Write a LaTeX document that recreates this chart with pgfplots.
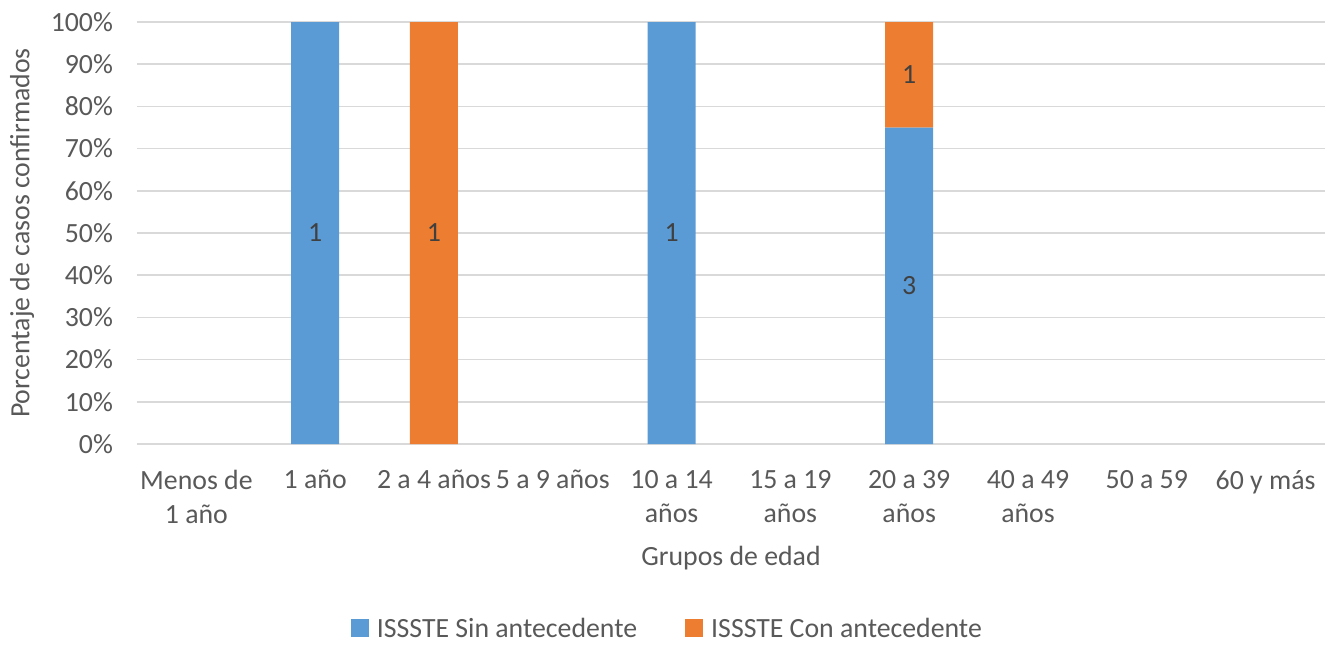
\documentclass[border=0pt]{standalone}
\usepackage{pgfplots}
\pgfplotsset{compat=1.18}
\usepackage{pgfplotstable}
\usepackage{fontspec}
\setmainfont{Carlito}

\definecolor{sinant}{HTML}{5B9BD5}
\definecolor{conant}{HTML}{ED7D31}
\definecolor{txt}{HTML}{595959}
\definecolor{lbl}{HTML}{404040}
\definecolor{grd}{HTML}{D9D9D9}

% x = grupo de edad, pct = porcentaje
\pgfplotstableread{
x  pct
0  0
1  100
2  0
3  0
4  100
5  0
6  75
7  0
8  0
9  0
}\sinantecedente
\pgfplotstableread{
x  pct
0  0
1  0
2  100
3  0
4  0
5  0
6  25
7  0
8  0
9  0
}\conantecedente
% etiquetas de casos, al centro de cada segmento
\pgfplotstableread{
x  y     n
1  50    1
2  50    1
4  50    1
6  37.5  3
6  87.5  1
}\etiquetas

\pgfplotsset{
    squareleg/.style={legend image code/.code={\fill[##1] (0pt,-3.8pt) rectangle (9pt,5.2pt);}},
    frame/.style={at={(68.5pt,100pt)}, anchor=south west,
        scale only axis, width=594pt, height=211pt,
        xmin=-0.5, xmax=9.5, ymin=0, ymax=100},
}

\begin{document}
\begin{tikzpicture}[font=\fontsize{13.9}{17}\selectfont]
\path[use as bounding box] (0,0) rectangle (665pt,322pt);
\begin{axis}[
    frame,
    ybar stacked, bar width=24pt,
    xtick={0,...,9},
    xticklabels={{Menos de\\1 año},{1 año},{2 a 4 años},{5 a 9 años},{10 a 14\\años},{15 a 19\\años},{20 a 39\\años},{40 a 49\\años},{50 a 59},{60 y más}},
    x tick label style={align=center, text=txt, yshift=-9.5pt},
    ytick={0,10,...,100},
    yticklabel={\pgfmathprintnumber{\tick}\%},
    y tick label style={text=txt, xshift=-8.5pt},
    /pgf/number format/assume math mode=true,
    ymajorgrids, grid style={grd, line width=0.75pt},
    axis line style={draw=none},
    major tick length=0pt,
    xlabel={Grupos de edad},
    ylabel={Porcentaje de casos confirmados},
    xlabel style={at={(axis description cs:0.5,-0.27)}, anchor=center, text=txt},
    ylabel style={at={(axis description cs:-0.0968,0.5)}, anchor=center, text=txt},
    legend style={at={(axis description cs:0.449,-0.44)}, anchor=center, draw=none,
        legend columns=2, text=txt,
        nodes={inner xsep=4pt},
        /tikz/every even column/.append style={column sep=20pt}},
]
\addplot[fill=sinant, draw=none, squareleg]
    table[x=x, y=pct] {\sinantecedente};
\addlegendentry{ISSSTE Sin antecedente}
\addplot[fill=conant, draw=none, squareleg]
    table[x=x, y=pct] {\conantecedente};
\addlegendentry{ISSSTE Con antecedente}
\end{axis}
\begin{axis}[frame, hide axis]
\addplot[draw=none, mark=none, point meta=explicit symbolic, nodes near coords,
    every node near coord/.style={anchor=center, text=lbl}]
    table[x=x, y=y, meta=n] {\etiquetas};
\end{axis}
\end{tikzpicture}
\end{document}
